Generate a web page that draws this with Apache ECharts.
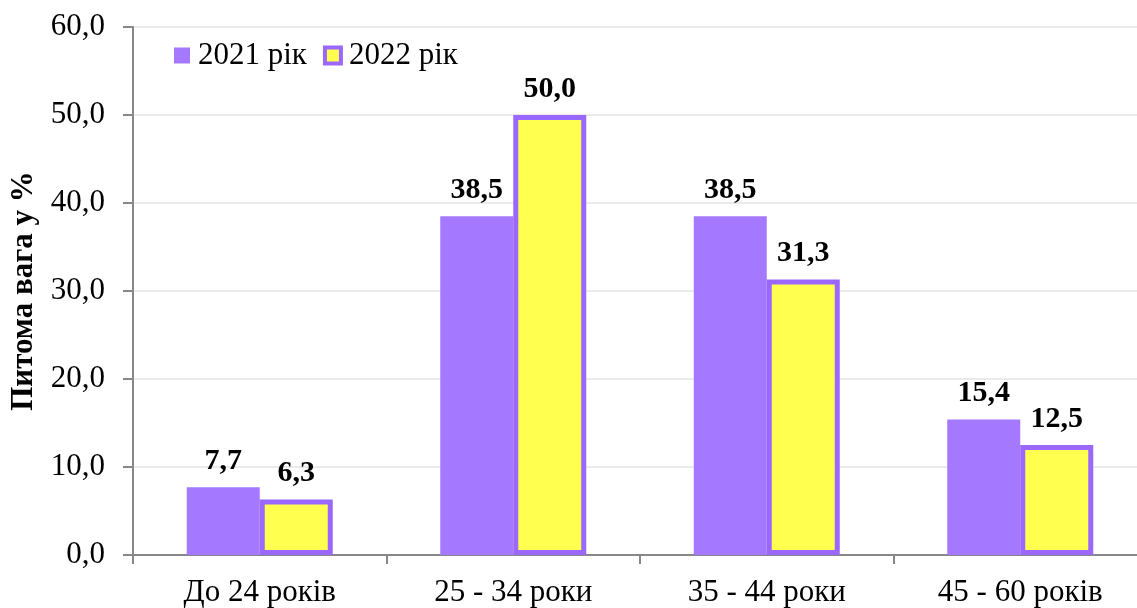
<!DOCTYPE html>
<html>
<head>
<meta charset="utf-8">
<script src="https://cdn.jsdelivr.net/npm/echarts@6/dist/echarts.min.js"></script>
<style>
  html, body { margin: 0; padding: 0; background: #fff; overflow: hidden; }
  #chart { width: 1150px; height: 608px; }
</style>
</head>
<body>
<div id="chart"></div>
<script>
// Age groups and share (%) per year
const categories = ['До 24 років', '25 - 34 роки', '35 - 44 роки', '45 - 60 років'];
const values2021 = [7.7, 38.5, 38.5, 15.4];
const values2022 = [6.3, 50.0, 31.3, 12.5];
const seriesNames = ['2021 рік', '2022 рік'];
const yAxisTitle = 'Питома вага у %';

const FONT = "'Liberation Serif', 'Times New Roman', serif";
const PURPLE = '#A478FF';
const BORDER = '#9B68FF';
const YELLOW = '#FFFF4F';

const fmt = v => v.toFixed(1).replace('.', ',');

const chart = echarts.init(document.getElementById('chart'), null, { renderer: 'canvas' });

const labelStyle = {
  show: true,
  position: 'top',
  distance: 11,
  fontFamily: FONT,
  fontSize: 30,
  fontWeight: 'bold',
  color: '#000',
  formatter: p => fmt(p.value)
};

chart.setOption({
  animation: false,
  textStyle: { fontFamily: FONT },
  grid: { left: 133, top: 27, width: 1014, height: 528, containLabel: false },
  legend: {
    left: 174,
    top: 40,
    padding: 0,
    itemWidth: 16,
    itemHeight: 16,
    itemGap: 16,
    textStyle: { fontFamily: FONT, fontSize: 31, color: '#000', padding: [0, 0, 0, 3] },
    data: [
      { name: seriesNames[0], icon: 'rect', itemStyle: { color: PURPLE, borderWidth: 0 } },
      { name: seriesNames[1], icon: 'rect', itemStyle: { color: YELLOW, borderColor: BORDER, borderWidth: 4 } }
    ]
  },
  xAxis: {
    type: 'category',
    data: categories,
    axisLine: { lineStyle: { color: '#888', width: 2 } },
    axisTick: { show: true, length: 9, lineStyle: { color: '#888', width: 2 } },
    axisLabel: { fontFamily: FONT, fontSize: 31, color: '#000', margin: 22 }
  },
  yAxis: {
    type: 'value',
    min: 0,
    max: 60,
    interval: 10,
    name: yAxisTitle,
    nameLocation: 'middle',
    nameGap: 94,
    nameTextStyle: { fontFamily: FONT, fontSize: 31, fontWeight: 'bold', color: '#000' },
    axisLine: { show: true, lineStyle: { color: '#888', width: 2 } },
    axisTick: { show: true, length: 10, lineStyle: { color: '#888', width: 2 } },
    axisLabel: { fontFamily: FONT, fontSize: 31, color: '#000', margin: 28, formatter: v => fmt(v) },
    splitLine: { lineStyle: { color: '#EBEBEB', width: 2 } }
  },
  series: [
    {
      name: seriesNames[0],
      type: 'bar',
      data: values2021,
      barWidth: 73,
      barGap: '0%',
      itemStyle: { color: PURPLE },
      label: labelStyle
    },
    {
      name: seriesNames[1],
      type: 'bar',
      data: values2022,
      barWidth: 73,
      itemStyle: { color: YELLOW, borderColor: BORDER, borderWidth: 5 },
      label: labelStyle
    }
  ]
});
</script>
</body>
</html>
